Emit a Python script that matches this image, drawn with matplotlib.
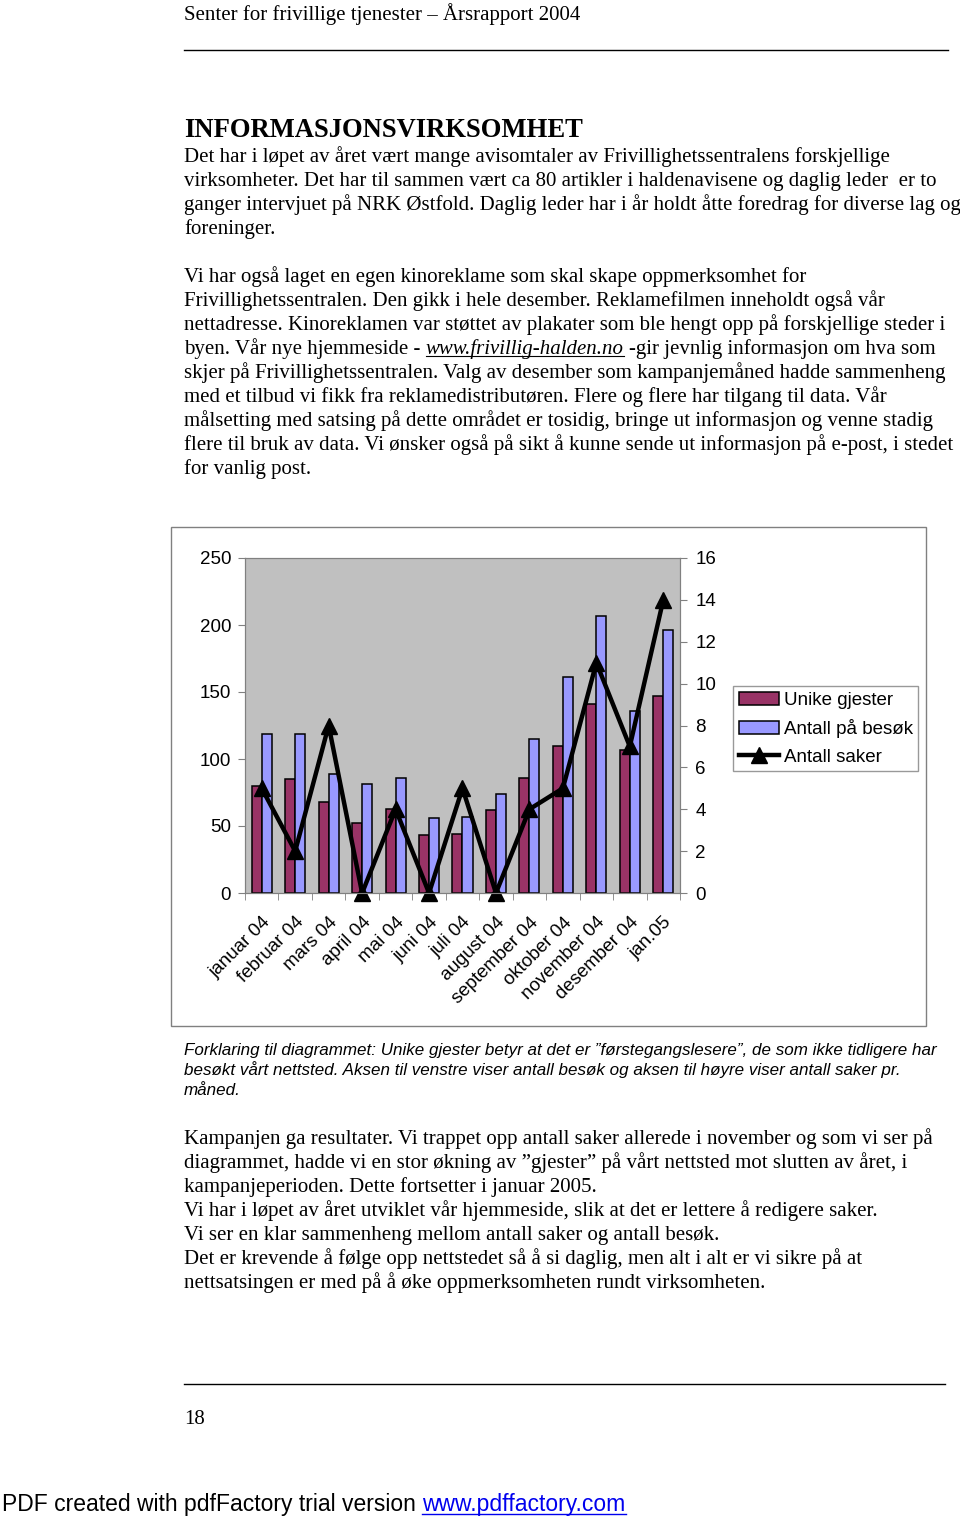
import matplotlib
matplotlib.use("Agg")
import matplotlib.pyplot as plt
from matplotlib.lines import Line2D
from matplotlib.patches import Rectangle
import numpy as np

# chart data
months = ["januar 04", "februar 04", "mars 04", "april 04", "mai 04", "juni 04",
          "juli 04", "august 04", "september 04", "oktober 04", "november 04",
          "desember 04", "jan.05"]
unike_gjester = [80, 85, 68, 52, 63, 43, 44, 62, 86, 110, 141, 107, 147]
antall_besok = [119, 119, 89, 81, 86, 56, 57, 74, 115, 161, 207, 136, 196]
antall_saker = [5, 2, 8, 0, 4, 0, 5, 0, 4, 5, 11, 7, 14]
series_names = ["Unike gjester", "Antall på besøk", "Antall saker"]

# page text
header = "Senter for frivillige tjenester – Årsrapport 2004"
heading = "INFORMASJONSVIRKSOMHET"
para1 = [
    "Det har i løpet av året vært mange avisomtaler av Frivillighetssentralens forskjellige",
    "virksomheter. Det har til sammen vært ca 80 artikler i haldenavisene og daglig leder  er to",
    "ganger intervjuet på NRK Østfold. Daglig leder har i år holdt åtte foredrag for diverse lag og",
    "foreninger.",
]
para2 = [
    "Vi har også laget en egen kinoreklame som skal skape oppmerksomhet for",
    "Frivillighetssentralen. Den gikk i hele desember. Reklamefilmen inneholdt også vår",
    "nettadresse. Kinoreklamen var støttet av plakater som ble hengt opp på forskjellige steder i",
    None,
    "skjer på Frivillighetssentralen. Valg av desember som kampanjemåned hadde sammenheng",
    "med et tilbud vi fikk fra reklamedistributøren. Flere og flere har tilgang til data. Vår",
    "målsetting med satsing på dette området er tosidig, bringe ut informasjon og venne stadig",
    "flere til bruk av data. Vi ønsker også på sikt å kunne sende ut informasjon på e-post, i stedet",
    "for vanlig post.",
]
url_line = ("byen. Vår nye hjemmeside -", "www.frivillig-halden.no", "-gir jevnlig informasjon om hva som")
caption = [
    "Forklaring til diagrammet: Unike gjester betyr at det er ”førstegangslesere”, de som ikke tidligere har",
    "besøkt vårt nettsted. Aksen til venstre viser antall besøk og aksen til høyre viser antall saker pr.",
    "måned.",
]
para3 = [
    "Kampanjen ga resultater. Vi trappet opp antall saker allerede i november og som vi ser på",
    "diagrammet, hadde vi en stor økning av ”gjester” på vårt nettsted mot slutten av året, i",
    "kampanjeperioden. Dette fortsetter i januar 2005.",
    "Vi har i løpet av året utviklet vår hjemmeside, slik at det er lettere å redigere saker.",
    "Vi ser en klar sammenheng mellom antall saker og antall besøk.",
    "Det er krevende å følge opp nettstedet så å si daglig, men alt i alt er vi sikre på at",
    "nettsatsingen er med på å øke oppmerksomheten rundt virksomheten.",
]

SERIF = "Liberation Serif"
SANS = "Liberation Sans"
W, H = 960, 1519
fig = plt.figure(figsize=(W / 100, H / 100), dpi=100)
renderer = fig.canvas.get_renderer()


def fx(x):
    return x / W


def fy(y):
    return 1 - y / H


def put(s, x, y, **kw):
    return fig.text(fx(x), fy(y), s, va="baseline", ha="left", **kw)


def width_px(s, **kw):
    t = fig.text(0, 0, s, **kw)
    w = t.get_window_extent(renderer).width
    t.remove()
    return w


def fit_size(s, target, **kw):
    return 10 * target / width_px(s, fontsize=10, **kw)


def hline(x0, x1, y, color="black", lw=1.0):
    fig.add_artist(Line2D([fx(x0), fx(x1)], [fy(y), fy(y)], color=color, lw=lw,
                          transform=fig.transFigure))


body = fit_size(para1[0], 704, family=SERIF)
space = width_px("a a", fontsize=body, family=SERIF) - width_px("aa", fontsize=body, family=SERIF)

# header
put(header, 184, 20, fontsize=fit_size(header, 396, family=SERIF), family=SERIF)
hline(184, 948, 50)
put(heading, 184, 137, fontsize=fit_size(heading, 398, family=SERIF, weight="bold"),
    family=SERIF, weight="bold")

for i, s in enumerate(para1):
    put(s, 184, 162 + 24 * i, fontsize=body, family=SERIF)

for i, s in enumerate(para2):
    yb = 282 + 24 * i
    if s is not None:
        put(s, 184, yb, fontsize=body, family=SERIF)
        continue
    x = 184
    t = put(url_line[0], x, yb, fontsize=body, family=SERIF)
    x += t.get_window_extent(renderer).width + space
    t = put(url_line[1], x, yb, fontsize=body, family=SERIF, style="italic")
    w = t.get_window_extent(renderer).width
    hline(x, x + w, yb + 2, lw=0.8)
    x += w + space
    put(url_line[2], x, yb, fontsize=body, family=SERIF)

cap = fit_size(caption[0], 756, family=SANS, style="italic")
for i, s in enumerate(caption):
    put(s, 184, 1055 + 20 * i, fontsize=cap, family=SANS, style="italic")

for i, s in enumerate(para3):
    put(s, 184, 1144 + 24 * i, fontsize=body, family=SERIF)

hline(184, 945, 1384)
put("18", 184, 1424, fontsize=body, family=SERIF)

pdf_a = "PDF created with pdfFactory trial version"
pdf_b = "www.pdffactory.com"
psz = fit_size(pdf_a + " " + pdf_b, 625, family=SANS)
t = put(pdf_a, 2, 1511, fontsize=psz, family=SANS)
x = 2 + t.get_window_extent(renderer).width + (width_px("a a", fontsize=psz, family=SANS)
                                                  - width_px("aa", fontsize=psz, family=SANS))
t = put(pdf_b, x, 1511, fontsize=psz, family=SANS, color="#0000EE")
hline(x, x + t.get_window_extent(renderer).width, 1514, color="#0000EE", lw=1)

# chart frame
fig.add_artist(Rectangle((fx(171), fy(1026)), (926 - 171) / W, (1026 - 527) / H,
                         fill=False, edgecolor="#808080", lw=1, transform=fig.transFigure))

tick_fs = 13.5
ax = fig.add_axes([fx(245), fy(893), (680 - 245) / W, (893 - 558) / H])
ax.set_facecolor("#C0C0C0")
x = np.arange(len(months))
b1 = ax.bar(x - 0.15, unike_gjester, 0.3, color="#993366", edgecolor="black", lw=1.1)
b2 = ax.bar(x + 0.15, antall_besok, 0.3, color="#9999FF", edgecolor="black", lw=1.1)
ax.set_xlim(-0.5, len(months) - 0.5)
ax.set_ylim(0, 250)
ax.set_yticks(range(0, 251, 50))
ax.set_xticks(x)
ax.set_xticklabels(months, rotation=45, ha="right", rotation_mode="anchor",
                   family=SANS, fontsize=tick_fs)
ax.set_xticks(np.arange(-0.5, len(months), 1), minor=True)
ax.tick_params(axis="x", which="major", length=0, pad=15)
ax.tick_params(axis="x", which="minor", length=5, color="#808080")
ax.tick_params(axis="y", length=5, color="#808080", pad=5)
for lab in ax.get_yticklabels():
    lab.set_family(SANS)
    lab.set_fontsize(tick_fs)
for sp in ax.spines.values():
    sp.set_color("#808080")

ax2 = ax.twinx()
ln, = ax2.plot(x, antall_saker, color="black", lw=3.2, marker="^", ms=11, clip_on=False)
ax2.set_ylim(0, 16)
ax2.set_yticks(range(0, 17, 2))
ax2.tick_params(axis="y", length=5, color="#808080", pad=6)
for lab in ax2.get_yticklabels():
    lab.set_family(SANS)
    lab.set_fontsize(tick_fs)
for sp in ax2.spines.values():
    sp.set_color("#808080")

leg = fig.legend([b1, b2, ln], series_names, loc="upper left",
                 bbox_to_anchor=(fx(733), fy(686)), frameon=True, fancybox=False,
                 edgecolor="#808080", prop={"family": SANS, "size": tick_fs},
                 handlelength=2.15, handletextpad=0.25, labelspacing=0.55,
                 borderpad=0.3, borderaxespad=0)
leg.get_frame().set_linewidth(1)

fig.savefig("out.png", dpi=100, facecolor="white")
